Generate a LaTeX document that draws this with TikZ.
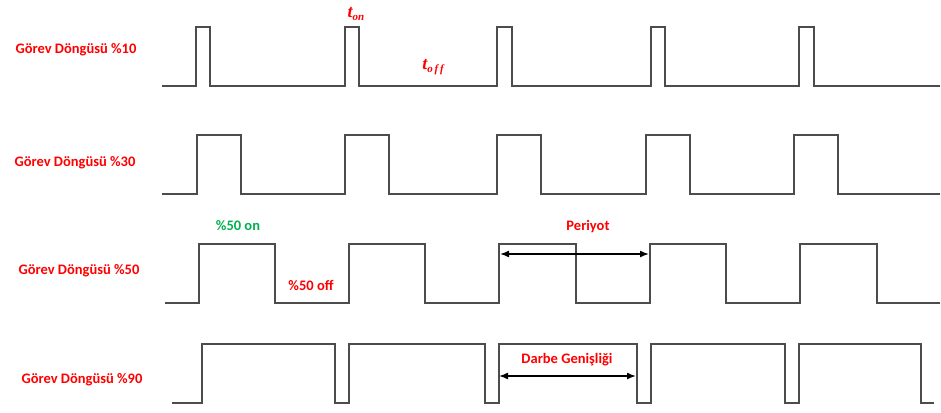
\documentclass[tikz,border=0pt]{standalone}
\usepackage{fontspec}
\setmainfont{Carlito}
\newfontfamily\tfont{Liberation Serif}
\usetikzlibrary{arrows.meta}
\definecolor{sigred}{RGB}{255,0,0}
\definecolor{siggreen}{RGB}{0,176,80}
\newcommand{\tsub}[1]{{\tfont\bfseries\itshape t\raisebox{-0.35ex}{\fontsize{11}{12}\selectfont #1}}}
\tikzset{wave/.style = {line width=1.3pt, draw=black!70}}
\tikzset{duty/.style = {text=sigred, inner sep=0pt,
                        font=\bfseries\fontsize{14.5}{16}\selectfont}}
\tikzset{tlabel/.style = {text=sigred, inner sep=0pt,
                          font=\fontsize{18}{19}\selectfont}}
\tikzset{span/.style = {{Latex[length=9pt,width=7pt]}-{Latex[length=9pt,width=7pt]},
                        line width=1.5pt}}

\begin{document}
\begin{tikzpicture}[x=1pt, y=-1pt]
      \useasboundingbox (0,0) rectangle (941,412);
      % duty 10
      \draw[wave] (162,86) -| (196,27) -| (210,86) -| (345,27) -| (359,86)
        -| (497,27) -| (512,86) -| (651,27) -| (665,86) -| (799,27) -| (814,86) -- (940,86);
      % duty 30
      \draw[wave] (162,194) -| (197,135) -| (241,194) -| (345,135) -| (389,194)
        -| (497,135) -| (541,194) -| (646,135) -| (690,194) -| (794,135) -| (838,194) -- (940,194);
      % duty 50
      \draw[wave] (165,303) -| (199,244) -| (275,303) -| (349,244) -| (425,303)
        -| (499,244) -| (576,303) -| (650,244) -| (726,303) -| (800,244) -| (877,303) -- (940,303);
      % duty 90
      \draw[wave] (172,403) -| (202,344) -| (335,403) -| (349,344) -| (485,403)
        -| (499,344) -| (637,403) -| (651,344) -| (785,403) -| (799,344) -| (921,403) -- (934,403);

      \node[duty] (d10) at (76,50)  {Görev Döngüsü \%10};
      \node[duty] (d30) at (75,163) {Görev Döngüsü \%30};
      \node[duty] (d50) at (79,271) {Görev Döngüsü \%50};
      \node[duty] (d90) at (82,380) {Görev Döngüsü \%90};

      \node[tlabel] (ton) at (356,14) {\tsub{on}};
      \node[tlabel] (toff) at (433,67) {\tsub{o\,f\,f}};
      \node[duty, text=siggreen] (on50) at (238,226) {\%50 on};
      \node[duty] (off50) at (311,285) {\%50 off};

      \coordinate (per-a) at (500,254);
      \coordinate (per-b) at (649,254);
      \draw[span] (per-a) -- (per-b);
      \node[duty] (per) at (588,227) {Periyot};

      \coordinate (pw-a) at (499,376);
      \coordinate (pw-b) at (636,376);
      \draw[span] (pw-a) -- (pw-b);
      \node[duty] (pw) at (567,360) {Darbe Genişliği};
\end{tikzpicture}
\end{document}
